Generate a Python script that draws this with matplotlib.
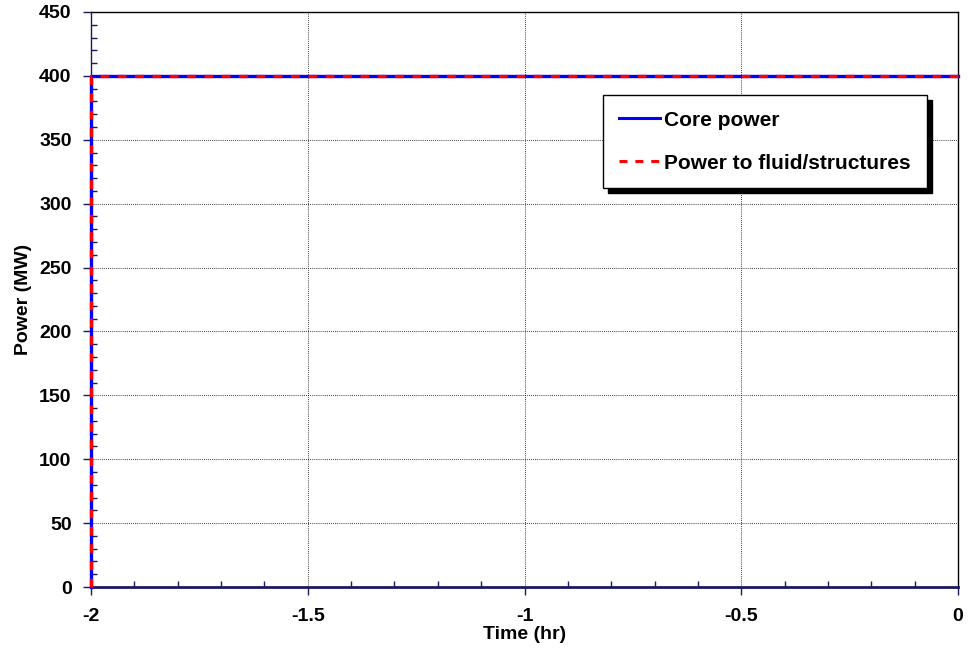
import numpy as np
import matplotlib.pyplot as plt
from matplotlib.ticker import MultipleLocator

plt.rcParams['font.family'] = ['Liberation Sans', 'DejaVu Sans']
plt.rcParams['font.weight'] = 'bold'

# time (hr) and power (MW)
time_core = [-2.0, -2.0, 0.0]
core_power = [0.0, 400.0, 400.0]
time_fluid = [-2.0, -2.0, 0.0]
fluid_power = [0.0, 400.0, 400.0]
xticks = [-2, -1.5, -1, -0.5, 0]
xtick_labels = ['-2', '-1.5', '-1', '-0.5', '0']

fig = plt.figure(figsize=(9.69, 6.57), dpi=100)
ax = fig.add_axes([91/969, 1 - 587/657, (958 - 91)/969, (587 - 12)/657])

ax.plot(time_core, core_power, color='#0000ff', lw=2.4, label='Core power',
        clip_on=False, zorder=3)
ax.plot(time_fluid, fluid_power, color='#ff0000', lw=2.4, ls=(0, (2.6, 2.6)),
        label='Power to fluid/structures', clip_on=False, zorder=4)

ax.set_xlim(-2, 0)
ax.set_ylim(0, 450)
ax.set_xticks(xticks)
ax.set_xticklabels(xtick_labels)
ax.xaxis.set_minor_locator(MultipleLocator(0.1))
ax.yaxis.set_major_locator(MultipleLocator(50))
ax.yaxis.set_minor_locator(MultipleLocator(10))
ax.tick_params(which='major', direction='out', length=6, width=1, labelsize=14,
               color='#1a1a60')
ax.tick_params(axis='y', which='major', pad=8)
ax.tick_params(axis='x', which='major', pad=9)
ax.tick_params(which='minor', direction='in', length=4, width=1, color='#1a1a60')

ax.grid(True, which='major', color='black', ls=(0, (1, 1.5)), lw=0.6)
for s in ax.spines.values():
    s.set_linewidth(1)
ax.spines['left'].set_color('#1a1a60')
ax.spines['bottom'].set_color('#1a1a60')
ax.spines['bottom'].set_linewidth(2)

ax.set_xlabel('Time (hr)', fontsize=14, fontweight='bold', labelpad=1)
ax.set_ylabel('Power (MW)', fontsize=14, fontweight='bold', labelpad=5)

leg = ax.legend(loc='upper left', bbox_to_anchor=((603 - 91)/867, (587 - 95)/575),
                fontsize=15, frameon=True, fancybox=False,
                shadow={'color': 'black', 'alpha': 1, 'ox': 3.5, 'oy': -3.5},
                edgecolor='black', framealpha=1, handlelength=2.0,
                handletextpad=0.2, labelspacing=1.15, borderpad=0.75,
                borderaxespad=0)
leg.get_frame().set_linewidth(1)
for h in leg.get_lines():
    h.set_linewidth(2.2)

fig.savefig('out.png', dpi=100)
